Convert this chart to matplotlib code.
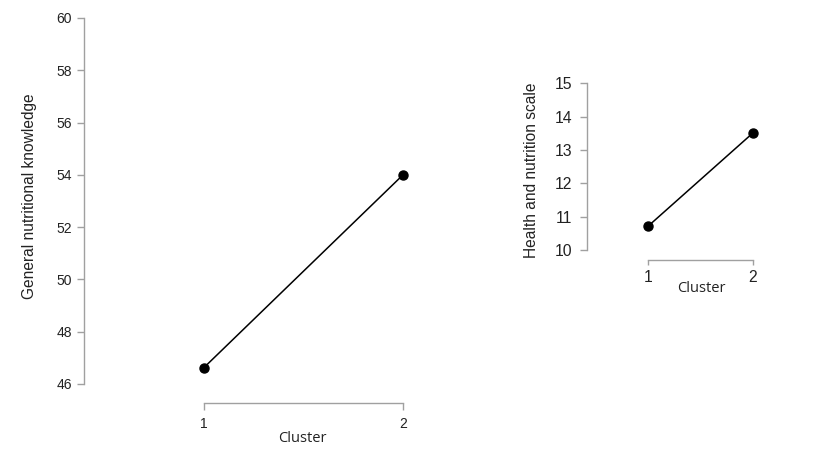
import matplotlib
matplotlib.use("Agg")
import matplotlib.pyplot as plt

# data
clusters = [1, 2]
general_knowledge = [46.63, 54.0]
health_scale = [10.71, 13.51]

left_yticks = [46, 48, 50, 52, 54, 56, 58, 60]
right_yticks = [10, 11, 12, 13, 14, 15]

W, H = 815, 455
fig = plt.figure(figsize=(W / 100, H / 100), dpi=100)

spine_col = '#a0a0a0'
tick_font = 'Liberation Sans'
label_font = 'Open Sans'


def make_axes(px_left, px_right, px_top, px_bottom):
    return fig.add_axes([px_left / W, 1 - px_bottom / H,
                         (px_right - px_left) / W, (px_bottom - px_top) / H])


def style(ax, yticks, ylabel, tsize, ypad, xlen, xpad):
    for s in ['top', 'right']:
        ax.spines[s].set_visible(False)
    for s in ['left', 'bottom']:
        ax.spines[s].set_color(spine_col)
        ax.spines[s].set_linewidth(1)
    ax.spines['left'].set_bounds(yticks[0], yticks[-1])
    ax.spines['bottom'].set_bounds(clusters[0], clusters[-1])
    ax.set_xticks(clusters)
    ax.set_yticks(yticks)
    ax.tick_params(colors=spine_col, width=1, labelcolor='#222222')
    ax.tick_params(axis='y', length=5, pad=ypad)
    ax.tick_params(axis='x', length=xlen, pad=xpad)
    for lab in ax.get_xticklabels() + ax.get_yticklabels():
        lab.set_fontfamily(tick_font)
        lab.set_fontsize(tsize)
    ax.set_xlabel('Cluster', fontfamily=label_font, fontsize=10.5, color='#222222')
    ax.set_ylabel(ylabel, fontfamily=tick_font, fontsize=11.2, color='#222222')
    ax.xaxis.label.set_va('center')
    ax.yaxis.label.set_va('center')


def place_labels(ax, px_left, px_right, px_top, px_bottom, xlab_xy, ylab_xy):
    w = px_right - px_left
    h = px_bottom - px_top
    ax.xaxis.set_label_coords((xlab_xy[0] - px_left) / w, (px_bottom - xlab_xy[1]) / h)
    ax.yaxis.set_label_coords((ylab_xy[0] - px_left) / w, (px_bottom - ylab_xy[1]) / h)


# left panel
L = (84, 450, 18, 403)
ax1 = make_axes(*L)
ax1.plot(clusters, general_knowledge, color='black', lw=1.1, marker='o', ms=6.5)
ax1.set_xlim(1 - 120 / 199, 2 + 47 / 199)
ax1.set_ylim(46 - 19 / 26.14, 60)
style(ax1, left_yticks, 'General nutritional knowledge', 10, 3.6, 5, 5)
place_labels(ax1, *L, (302, 438), (30, 196))

# right panel
R = (587, 780, 83.3, 259.5)
ax2 = make_axes(*R)
ax2.plot(clusters, health_scale, color='black', lw=1.1, marker='o', ms=6.5)
ax2.set_xlim(1 - 61 / 104.7, 2 + 27 / 104.7)
ax2.set_ylim(10 - 9.7 / 33.4, 15)
style(ax2, right_yticks, 'Health and nutrition scale', 11.3, 5.5, 3.6, 4)
place_labels(ax2, *R, (701, 289), (532, 170))

fig.savefig('out.png', dpi=100)
